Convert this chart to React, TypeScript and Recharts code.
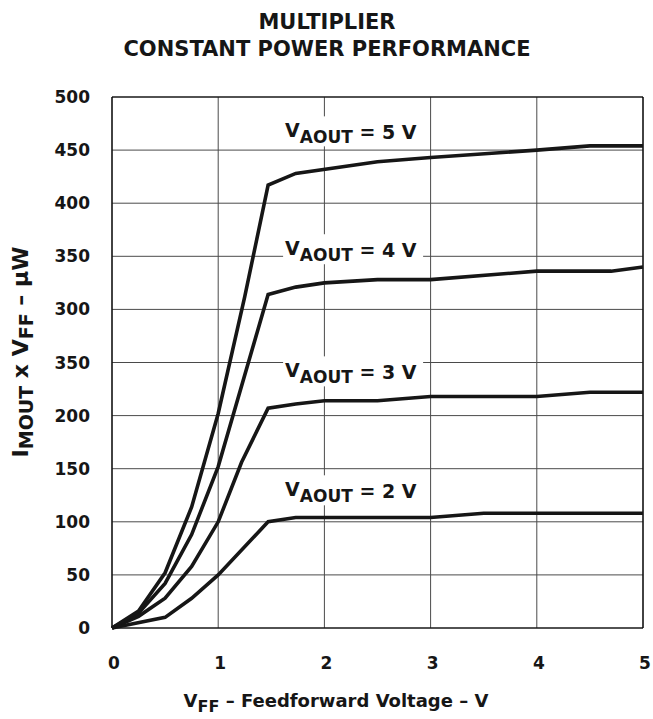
import {
  CartesianGrid,
  Line,
  LineChart,
  ReferenceDot,
  ReferenceLine,
  XAxis,
  YAxis,
} from "recharts";

// values (x = V_FF in volts, y = µW)
const vaout5 = [
  { x: 0, y: 0 }, { x: 0.25, y: 16 }, { x: 0.5, y: 52 }, { x: 0.75, y: 114 },
  { x: 1, y: 202 }, { x: 1.25, y: 312 }, { x: 1.47, y: 417 }, { x: 1.73, y: 428 },
  { x: 2.5, y: 439 }, { x: 3, y: 443 }, { x: 4, y: 450 }, { x: 4.5, y: 454 },
  { x: 5, y: 454 },
];
const vaout4 = [
  { x: 0, y: 0 }, { x: 0.25, y: 14 }, { x: 0.5, y: 42 }, { x: 0.75, y: 88 },
  { x: 1, y: 152 }, { x: 1.47, y: 314 }, { x: 1.73, y: 321 }, { x: 2, y: 325 },
  { x: 2.5, y: 328 }, { x: 3, y: 328 }, { x: 4, y: 336 }, { x: 4.7, y: 336 },
  { x: 5, y: 340 },
];
const vaout3 = [
  { x: 0, y: 0 }, { x: 0.25, y: 11 }, { x: 0.5, y: 28 }, { x: 0.75, y: 58 },
  { x: 1, y: 100 }, { x: 1.22, y: 156 }, { x: 1.47, y: 207 }, { x: 1.73, y: 211 },
  { x: 2, y: 214 }, { x: 2.5, y: 214 }, { x: 3, y: 218 }, { x: 4, y: 218 },
  { x: 4.5, y: 222 }, { x: 5, y: 222 },
];
const vaout2 = [
  { x: 0, y: 0 }, { x: 0.5, y: 10 }, { x: 0.75, y: 28 }, { x: 1, y: 50 },
  { x: 1.47, y: 100 }, { x: 1.73, y: 104 }, { x: 3, y: 104 }, { x: 3.5, y: 108 },
  { x: 5, y: 108 },
];

const xTicks = [0, 1, 2, 3, 4, 5];
const yTicks = [0, 50, 100, 150, 200, 250, 300, 350, 400, 450, 500];
// the reference prints "350" at the 250 gridline, kept as drawn
const yTickLabels = ["0", "50", "100", "150", "200", "350", "300", "350", "400", "450", "500"];

// curve labels: anchor (left/baseline of the "V") and the voltage shown
const curveLabels = [
  { x: 1.63, y: 462, volts: "5" },
  { x: 1.63, y: 351, volts: "4" },
  { x: 1.63, y: 236, volts: "3" },
  { x: 1.63, y: 124, volts: "2" },
];

const FONT = "'DejaVu Sans', sans-serif";
const INK = "#161616";

function CurveLabel({ cx, cy, volts }: { cx?: number; cy?: number; volts: string }) {
  if (cx == null || cy == null) return null;
  return (
    <g>
      <rect x={cx - 2} y={cy - 21} width={140} height={30} fill="#fff" />
      <text x={cx} y={cy} fontFamily={FONT} fontWeight="bold" fontSize={19} fill={INK} style={{ whiteSpace: "pre" }}>
        <tspan>V</tspan>
        <tspan dy={6} fontSize={17}>AOUT</tspan>
        <tspan dy={-4}>{` = ${volts} V`}</tspan>
      </text>
    </g>
  );
}

function YTick(props: any) {
  const { y, payload } = props;
  const label = yTickLabels[yTicks.indexOf(payload.value)];
  return (
    <text x={90} y={y} dy={6} textAnchor="end" fontFamily={FONT} fontWeight="bold" fontSize={17} fill={INK}>
      {label}
    </text>
  );
}

function XTick(props: any) {
  const { x, payload } = props;
  return (
    <text x={x + 2} y={669} textAnchor="middle" fontFamily={FONT} fontWeight="bold" fontSize={17} fill={INK}>
      {payload.value}
    </text>
  );
}

export default function App() {
  return (
    <div style={{ position: "absolute", left: 0, top: 0, width: 653, height: 719, background: "#fff" }}>
      <LineChart width={653} height={719} margin={{ top: 97, right: 10, bottom: 41, left: 12 }}>
        <CartesianGrid stroke="#4a4a4a" strokeWidth={1} horizontalValues={yTicks} verticalValues={xTicks} />
        <XAxis
          type="number"
          dataKey="x"
          domain={[0, 5]}
          ticks={xTicks}
          height={50}
          axisLine={false}
          tickLine={false}
          tick={<XTick />}
        />
        <YAxis
          type="number"
          dataKey="y"
          domain={[0, 500]}
          ticks={yTicks}
          width={100}
          axisLine={false}
          tickLine={false}
          tick={<YTick />}
        />
        <ReferenceLine x={0} stroke="#000" strokeWidth={1.2} />
        <ReferenceLine x={5} stroke="#000" strokeWidth={1.2} />
        <ReferenceLine y={0} stroke="#000" strokeWidth={1.2} />
        <ReferenceLine y={500} stroke="#000" strokeWidth={1.2} />
        {curveLabels.map((l) => (
          <ReferenceDot
            key={l.volts}
            x={l.x}
            y={l.y}
            r={1}
            shape={(p: any) => <CurveLabel cx={p.cx} cy={p.cy} volts={l.volts} />}
          />
        ))}
        <Line data={vaout2} dataKey="y" type="linear" stroke={INK} strokeWidth={3.6} dot={false} isAnimationActive={false} />
        <Line data={vaout3} dataKey="y" type="linear" stroke={INK} strokeWidth={3.6} dot={false} isAnimationActive={false} />
        <Line data={vaout4} dataKey="y" type="linear" stroke={INK} strokeWidth={3.6} dot={false} isAnimationActive={false} />
        <Line data={vaout5} dataKey="y" type="linear" stroke={INK} strokeWidth={3.6} dot={false} isAnimationActive={false} />
      </LineChart>
      <svg width={653} height={719} style={{ position: "absolute", left: 0, top: 0, pointerEvents: "none" }}>
        <g fontFamily={FONT} fontWeight="bold" fill={INK} textAnchor="middle">
          <text x={327} y={29} fontSize={21}>MULTIPLIER</text>
          <text x={327} y={56} fontSize={21}>CONSTANT POWER PERFORMANCE</text>
          <text x={336} y={707} fontSize={18} style={{ whiteSpace: "pre" }}>
            <tspan>V</tspan>
            <tspan dy={5} fontSize={16}>FF</tspan>
            <tspan dy={-5}>{" – Feedforward Voltage – V"}</tspan>
          </text>
          <text x={28} y={352} fontSize={22} transform="rotate(-90, 28, 352)" style={{ whiteSpace: "pre" }}>
            <tspan>I</tspan>
            <tspan dy={5} fontSize={19}>MOUT</tspan>
            <tspan dy={-5}>{" x V"}</tspan>
            <tspan dy={5} fontSize={19}>FF</tspan>
            <tspan dy={-5}>{" – µW"}</tspan>
          </text>
        </g>
      </svg>
    </div>
  );
}
